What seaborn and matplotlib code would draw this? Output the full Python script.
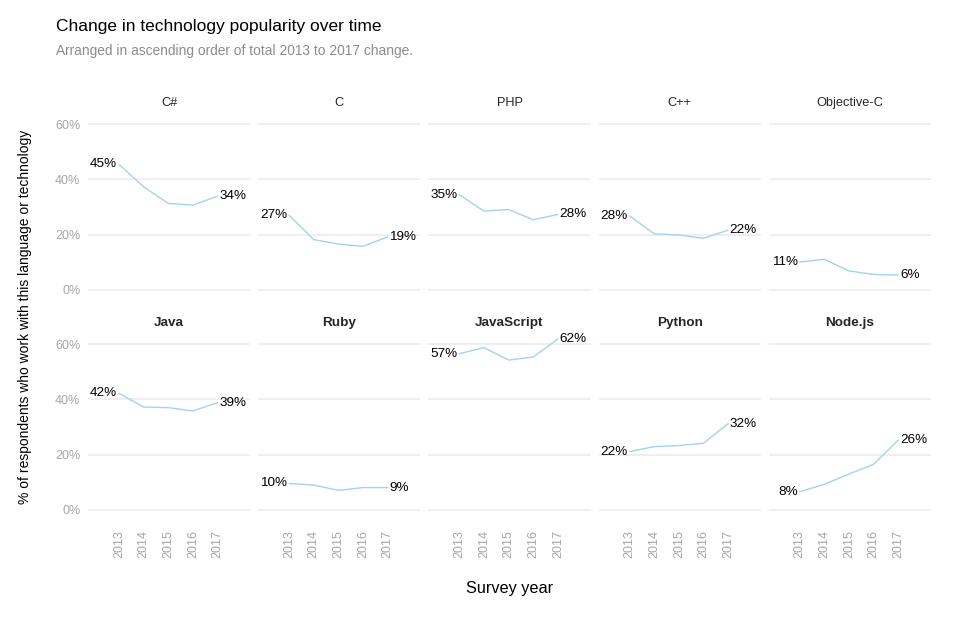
import pandas as pd
import numpy as np
import matplotlib.pyplot as plt
import matplotlib.ticker as mticker
import seaborn as sns

sns.set_theme(style="white")
plt.rcParams['font.family'] = ['Liberation Sans', 'DejaVu Sans']

# data (% of respondents)
years = [2013, 2014, 2015, 2016, 2017]
languages = ['C#', 'C', 'PHP', 'C++', 'Objective-C',
             'Java', 'Ruby', 'JavaScript', 'Python', 'Node.js']
csharp = [45.4, 37.3, 31.3, 30.7, 33.9]
c_lang = [27.0, 18.2, 16.6, 15.8, 19.2]
php = [34.4, 28.5, 29.1, 25.4, 27.3]
cpp = [26.8, 20.3, 19.9, 18.7, 21.6]
objc = [10.1, 11.1, 6.9, 5.6, 5.4]
java = [42.2, 37.2, 37.0, 35.8, 38.8]
ruby = [9.6, 9.0, 7.1, 8.1, 8.1]
javascript = [56.5, 58.7, 54.2, 55.3, 61.8]
python = [21.1, 22.9, 23.3, 24.1, 31.2]
nodejs = [6.6, 9.3, 13.0, 16.5, 25.3]
start_labels = ['45%', '27%', '35%', '28%', '11%', '42%', '10%', '57%', '22%', '8%']
end_labels = ['34%', '19%', '28%', '22%', '6%', '39%', '9%', '62%', '32%', '26%']

series = [csharp, c_lang, php, cpp, objc, java, ruby, javascript, python, nodejs]
df = pd.DataFrame({
    'language': np.repeat(languages, len(years)),
    'year': years * len(languages),
    'pct': np.concatenate(series),
})

fig, axes = plt.subplots(2, 5, figsize=(9.71, 6.44), dpi=100, sharex=True, sharey=True)
fig.subplots_adjust(left=0.0906, right=0.9588, bottom=0.1952, top=0.8203,
                    wspace=0.049, hspace=0.205)

for i, (ax, lang) in enumerate(zip(axes.flat, languages)):
    sub = df[df['language'] == lang]
    sns.lineplot(data=sub, x='year', y='pct', ax=ax, color='#a3d2f2', linewidth=1)
    ax.text(years[0] - 0.07, sub['pct'].iloc[0], start_labels[i],
            ha='right', va='center', fontsize=9.7, color='black')
    ax.text(years[-1] + 0.07, sub['pct'].iloc[-1], end_labels[i],
            ha='left', va='center', fontsize=9.7, color='black')
    if i >= 5:
        ax.set_title(lang, fontsize=9.7, pad=7, fontweight='bold')
    else:
        ax.set_title(lang, fontsize=9.2, pad=7)
    ax.set_xlabel('')
    ax.set_ylabel('')
    for s in ax.spines.values():
        s.set_visible(False)
    ax.yaxis.grid(True, color='#ebebeb', linewidth=1.1)
    ax.xaxis.grid(False)
    ax.set_axisbelow(True)

ax0 = axes[0, 0]
ax0.set_xlim(2011.74, 2018.33)
ax0.set_ylim(-3, 63)
ax0.set_yticks([0, 20, 40, 60])
ax0.yaxis.set_major_formatter(mticker.FuncFormatter(lambda v, p: f'{v:.0f}%'))
ax0.set_xticks(years)

for ax in axes.flat:
    ax.tick_params(axis='both', length=0, colors='#a6a6a6', labelsize=9)
    ax.tick_params(axis='y', pad=5.5)
    ax.tick_params(axis='x', pad=8.2, labelrotation=90)

fig.text(56 / 971, 1 - 27 / 644, 'Change in technology popularity over time',
         fontsize=12.5, ha='left', va='center', color='black')
fig.text(56 / 971, 1 - 50.5 / 644, 'Arranged in ascending order of total 2013 to 2017 change.',
         fontsize=9.9, ha='left', va='center', color='#8c8c8c')
fig.text(509.5 / 971, 1 - 588 / 644, 'Survey year', fontsize=11.7,
         ha='center', va='center', color='black')
fig.text(25 / 971, 1 - 317 / 644, '% of respondents who work with this language or technology',
         fontsize=10, rotation=90, ha='center', va='center', color='black')

plt.savefig('out.png', dpi=100)
